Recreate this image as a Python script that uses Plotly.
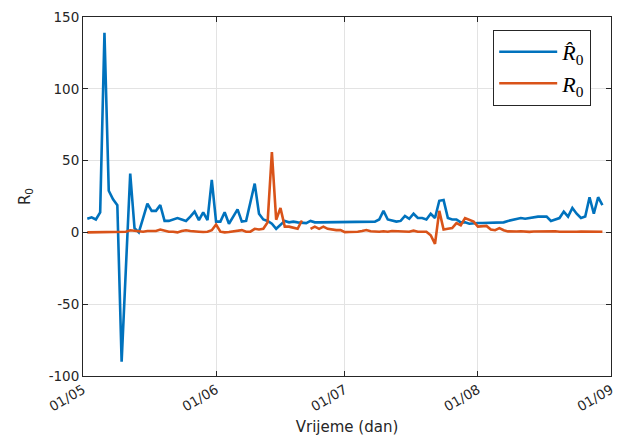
import pandas as pd
import plotly.graph_objects as go

start_date = "2020-05-02"
month_ticks = ["2020-05-01", "2020-06-01", "2020-07-01", "2020-08-01", "2020-09-01"]
month_labels = ["01/05", "01/06", "01/07", "01/08", "01/09"]

r0_hat = [
    9.5, 10.5, 9, 14, 139, 29, 23, 19, -90, -25,
    41, 3, 0, 10, 20, 15, 15, 19, 8, 8,
    9, 10, 9, 8, 11, 14.5, 8.5, 14, 8.5, 36.5,
    7.5, 7.5, 14, 6, 11, 16, 7.5, 8, 21, 34,
    13, 9, 8, 6, 2.5, 5.5, 8, 7, 7.5, 7,
    7, 6.5, 8, 7, 7, 7, 7, 7, 7, 7.5,
    7, 7.5, 7.5, 7.5, 7, 7, 7, 7.5, 9, 15,
    9, 8, 7.5, 8, 11.5, 9.5, 13, 10, 10, 9,
    13, 10, 22, 22.5, 10, 9, 9, 7, 7, 6,
    6.5, 6.5, 6.5, 6.5, 7, 7, 7, 7, 8, 8.5,
    9, 10, 9.5, 10, 11, 11, 11, 11, 8, 9,
    10, 14.5, 11, 17, 13, 10, 11, 24.5, 13, 24.5,
    19,
]

r0 = [
    0, 0, 0, 0, 0, 0, 0, 0, 0, 0.5,
    1.5, 1, 0.5, 0.5, 1, 1, 1, 2, 1, 0.5,
    0.5, 0, 1, 1.5, 1, 0.5, 0.5, 0.3, 0.5, 1.5,
    5.5, 0.5, 0, 0.3, 0.8, 1.2, 1.6, 0.5, 0.5, 2.5,
    2, 2.5, 7, 56, 8.8, 17, 4, 4, 3.3, 2.5,
    8.3, None, 2.5, 4, 2.5, 4, 2.5, 2, 1.6, 1.6,
    0.2, 0.3, 0.3, 0.5, 1, 1.6, 0.8, 0.5, 0.5, 0.8,
    0.5, 1, 0.8, 0.5, 0.5, 0.5, 1.2, 0.5, 0.5, 0.5,
    -2, -8, 15, 2, 2.5, 3, 6.5, 5, 10, 8.5,
    7.5, 4, 4, 4.5, 2, 1.5, 3, 1.5, 0.7, 0.5,
    0.6, 0.8, 0.5, 0.4, 0.6, 0.7, 0.5, 0.5, 0.6, 0.8,
    0.5, 0.4, 0.6, 0.7, 0.5, 0.6, 0.5, 0.7, 0.5, 0.6,
    0.5,
]

dates = pd.date_range(start_date, periods=len(r0_hat), freq="D")

axis_color = "#262626"
grid_color = "#e3e3e3"
sans = "DejaVu Sans, Liberation Sans, sans-serif"
tick_font = dict(family=sans, size=13.5, color=axis_color)

fig = go.Figure()
fig.add_trace(go.Scatter(
    x=dates, y=r0_hat, mode="lines", name="<i>R̂</i><sub>0</sub>",
    line=dict(color="#0072BD", width=2.6), connectgaps=False,
))
fig.add_trace(go.Scatter(
    x=dates, y=r0, mode="lines", name="<i>R</i><sub>0</sub>",
    line=dict(color="#D95319", width=2.6), connectgaps=False,
))

fig.update_layout(
    width=627, height=436,
    margin=dict(l=83, r=16, t=17, b=60),
    paper_bgcolor="white", plot_bgcolor="white",
    showlegend=True,
    legend=dict(
        x=0.9625, y=0.964, xanchor="right", yanchor="top",
        bgcolor="white", bordercolor=axis_color, borderwidth=1,
        font=dict(family="Liberation Serif, DejaVu Serif, serif", size=22, color="black"),
        itemwidth=58,
    ),
)

fig.update_xaxes(
    type="date", automargin=False,
    range=[month_ticks[0], month_ticks[-1]],
    tickmode="array", tickvals=month_ticks, ticktext=month_labels,
    tickangle=-30, tickfont=tick_font,
    ticks="inside", ticklen=5, tickcolor=axis_color,
    showline=True, linecolor=axis_color, linewidth=1, mirror="ticks",
    showgrid=True, gridcolor=grid_color, gridwidth=1,
    zeroline=False,
    title=dict(text="Vrijeme (dan)", font=dict(family=sans, size=15, color=axis_color), standoff=10),
)
fig.update_yaxes(
    automargin=False,
    range=[-100, 150], tickmode="array",
    tickvals=[-100, -50, 0, 50, 100, 150],
    ticktext=["-100", "-50", "0", "50", "100", "150"],
    tickfont=tick_font,
    ticks="inside", ticklen=5, tickcolor=axis_color,
    showline=True, linecolor=axis_color, linewidth=1, mirror="ticks",
    showgrid=True, gridcolor=grid_color, gridwidth=1,
    zeroline=False,
    title=dict(text="R<sub>0</sub>", font=dict(family=sans, size=15, color=axis_color), standoff=14),
)

fig.write_html(
    "out.html",
    config={"displayModeBar": False},
    post_script="document.body.style.margin='0';document.body.style.overflow='hidden';",
)
